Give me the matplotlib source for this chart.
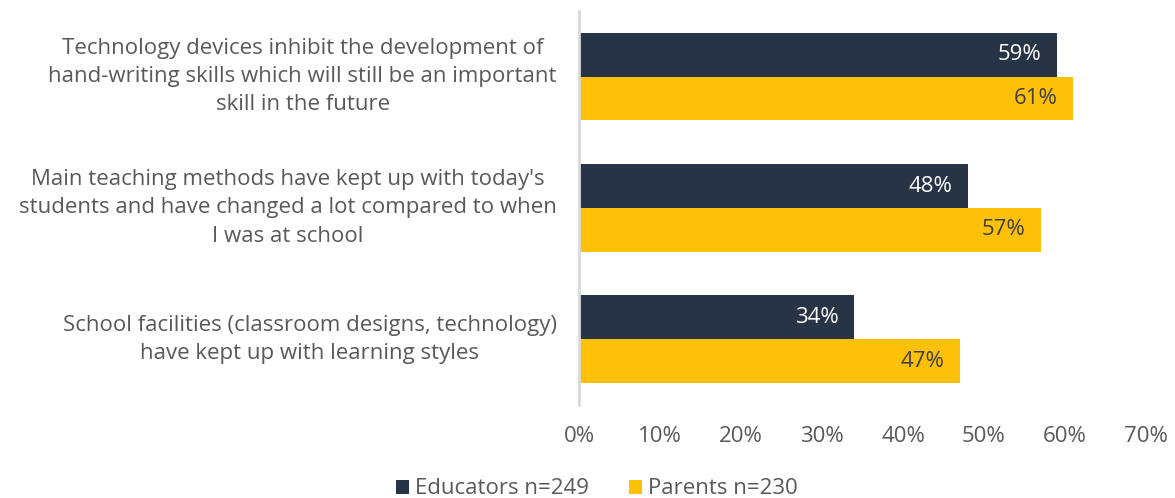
import matplotlib.pyplot as plt
import numpy as np

plt.rcParams['font.family'] = ['Open Sans', 'DejaVu Sans']

categories = [
    "Technology devices inhibit the development of\nhand-writing skills which will still be an important\nskill in the future",
    "Main teaching methods have kept up with today's\nstudents and have changed a lot compared to when\nI was at school",
    "School facilities (classroom designs, technology)\nhave kept up with learning styles",
]
educators = [59, 48, 34]
parents = [61, 57, 47]
series_names = ["Educators n=249", "Parents n=230"]
xticks = [0, 10, 20, 30, 40, 50, 60, 70]

navy = '#263445'
gold = '#FFC107'
grey = '#595959'
fs = 16

fig = plt.figure(figsize=(11.75, 4.98), dpi=100)
ax = fig.add_axes([0.4928, 0.187, 0.4825, 0.791])

y = np.arange(len(categories))
h = 0.333
b1 = ax.barh(y - h / 2, educators, height=h, color=navy, label=series_names[0])
b2 = ax.barh(y + h / 2, parents, height=h, color=gold, label=series_names[1])

for bars, vals, tc in [(b1, educators, 'white'), (b2, parents, '#404040')]:
    for bar, v in zip(bars, vals):
        ax.annotate(f"{v}%", (v, bar.get_y() + bar.get_height() / 2),
                    xytext=(-11, 0), textcoords='offset points',
                    ha='right', va='center', color=tc, fontsize=fs)

ax.set_xlim(0, 70)
ax.set_ylim(2.5, -0.5)
ax.set_xticks(xticks)
ax.set_xticklabels([f"{t}%" for t in xticks], fontsize=fs, color=grey)
ax.tick_params(axis='x', length=0, pad=15)
ax.set_yticks([])

for i, c in enumerate(categories):
    ax.annotate(c, (0, i), xytext=(-16, 0), textcoords='offset points',
                ha='right', va='center', multialignment='center',
                fontsize=fs, color=grey, linespacing=1.45)

for s in ['top', 'right', 'bottom']:
    ax.spines[s].set_visible(False)
ax.spines['left'].set_color('#d9d9d9')
ax.spines['left'].set_linewidth(2)

fig.legend(handles=[b1, b2], labels=series_names, loc='lower center',
           bbox_to_anchor=(0.508, -0.043), ncol=2, frameon=False,
           fontsize=fs, labelcolor=grey, handlelength=0.6, handleheight=0.6,
           handletextpad=0.25, columnspacing=1.8)

fig.savefig('out.png', dpi=100)
